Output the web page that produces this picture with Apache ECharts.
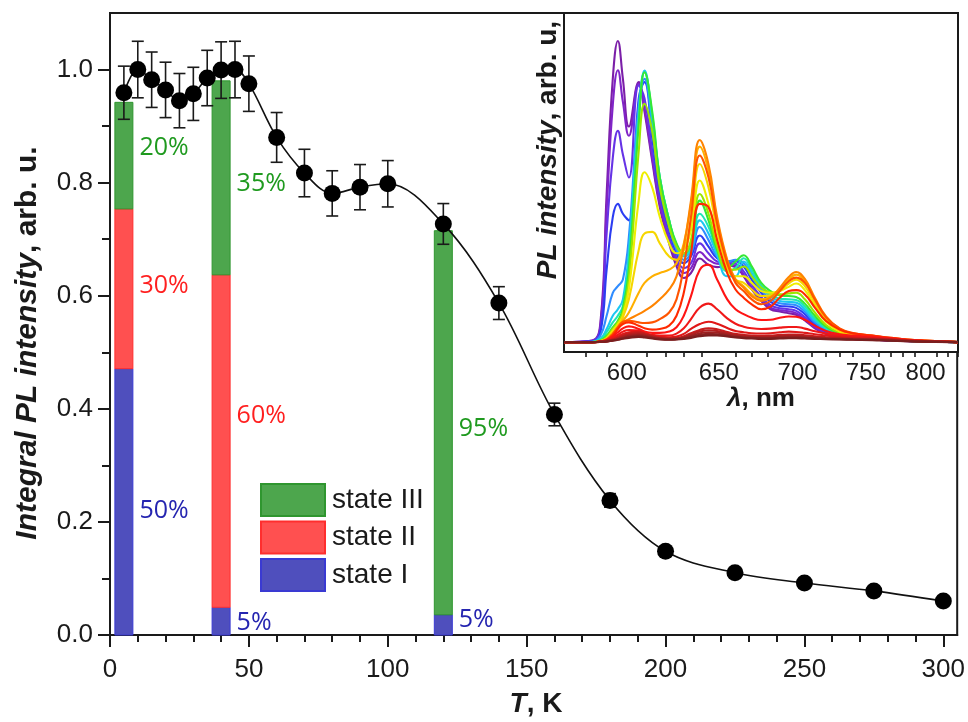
<!DOCTYPE html>
<html>
<head>
<meta charset="utf-8">
<script src="https://cdn.jsdelivr.net/npm/echarts@6/dist/echarts.min.js"></script>
<style>
  html, body { margin: 0; padding: 0; background: #fff; }
  #chart { width: 968px; height: 722px; }
</style>
</head>
<body>
<div id="chart"></div>
<script>
// ---- Temperature dependence of integral PL intensity ----
const temps = [5, 10, 15, 20, 25, 30, 35, 40, 45, 50, 60, 70, 80, 90, 100, 120, 140, 160, 180, 200, 225, 250, 275, 300];
const intensity = [0.959, 1.000, 0.982, 0.964, 0.945, 0.957, 0.985, 0.999, 1.000, 0.975, 0.880, 0.817, 0.781, 0.792, 0.798, 0.727, 0.587, 0.390, 0.238, 0.148, 0.110, 0.092, 0.078, 0.060];
const intensityErr = [0.047, 0.050, 0.049, 0.049, 0.048, 0.047, 0.049, 0.050, 0.050, 0.049, 0.044, 0.042, 0.040, 0.040, 0.041, 0.036, 0.029, 0.020, 0.012, 0.007, 0.006, 0.005, 0.004, 0.003];

// ---- State composition bars (percent of bar total) ----
const barTemps = [5, 40, 120];
const barTotals = [0.942, 0.980, 0.715];
const stateI = [50, 5, 5];
const stateII = [30, 60, 0];
const stateIII = [20, 35, 95];

// ---- Main axis ticks ----
const tempMajorTicks = [0, 50, 100, 150, 200, 250, 300];
const tempMinorTicks = [10, 20, 30, 40, 60, 70, 80, 90, 110, 120, 130, 140, 160, 170, 180, 190, 210, 220, 230, 240, 260, 270, 280, 290];
const intMajorTicks = [0, 0.2, 0.4, 0.6, 0.8, 1.0];
const intMinorTicks = [0.1, 0.3, 0.5, 0.7, 0.9];
const intRightTicks = [0.1, 0.2, 0.3, 0.4, 0.5, 0.6, 0.7, 0.8, 0.9, 1.0];

// ---- Inset: PL spectra (wavelength in nm) ----
const wavelengths = [570, 583, 587, 590, 593, 595.5, 598, 601, 606, 609, 613, 617, 622, 626, 630, 634, 639, 644, 649, 655, 660, 665, 670, 676, 682, 688, 694, 699, 705, 712, 720, 730, 740, 755, 770, 790, 830];
const spectra = [
  [0, .005, .06, .45, .80, .915, .80, .655,  .79, .70, .55, .41, .30, .23, .195, .21,  .254, .235, .228, .232, .228, .20, .16, .125,  .10, .093, .088, .083, .066, .042, .025, .014,  .01, .007, .005, .003, 0],
  [0, .004, .05, .40, .72, .826, .73, .627,  .785, .71, .56, .42, .31, .245, .21, .225,  .274, .25, .238, .236, .232, .205, .165, .13,  .105, .097, .094, .088, .07, .045, .027, .015,  .01, .007, .005, .003, 0],
  [0, .003, .04, .33, .56, .642, .57, .50,  .78, .74, .58, .44, .32, .255, .225, .24,  .30, .27, .245, .24, .238, .215, .175, .137,  .112, .103, .10, .095, .076, .05, .03, .017,  .011, .008, .005, .003, 0],
  [0, .002, .03, .22, .38, .42, .39, .37,  .74, .79, .62, .46, .34, .27, .24, .26,  .324, .29, .255, .245, .245, .23, .19, .15,  .122, .11, .108, .104, .085, .056, .034, .019,  .012, .008, .006, .003, 0],
  [0, .001, .02, .08, .15, .17, .19, .32,  .72, .80, .65, .48, .355, .28, .25, .27,  .35, .31, .26, .245, .25, .24, .20, .158,  .13, .118, .115, .112, .092, .06, .036, .02,  .013, .009, .006, .003, 0],
  [0, 0, .01, .04, .08, .10, .13, .28,  .70, .825, .68, .50, .37, .29, .26, .28,  .37, .33, .265, .20, .20, .245, .21, .165,  .138, .125, .122, .12, .10, .066, .04, .022,  .014, .01, .006, .003, 0],
  [0, 0, .008, .03, .06, .08, .11, .25,  .68, .82, .69, .50, .37, .295, .265, .29,  .39, .35, .275, .215, .225, .255, .22, .172,  .145, .132, .13, .128, .108, .072, .043, .024,  .015, .01, .006, .003, 0],
  [0, 0, .005, .02, .045, .065, .10, .22,  .66, .82, .70, .50, .37, .30, .27, .30,  .43, .37, .28, .225, .245, .264, .23, .18,  .155, .142, .14, .137, .117, .08, .047, .026,  .016, .011, .007, .003, 0],
  [0, 0, .004, .015, .04, .06, .09, .19,  .58, .724, .64, .47, .35, .29, .27, .31,  .45, .39, .29, .22, .22, .23, .20, .165,  .15, .145, .148, .15, .13, .09, .052, .028,  .017, .012, .008, .004, 0],
  [0, 0, .003, .012, .035, .055, .08, .16,  .43, .516, .47, .38, .30, .27, .28, .34,  .491, .42, .31, .22, .20, .20, .18, .155,  .15, .155, .168, .178, .158, .11, .062, .032,  .02, .014, .009, .004, 0],
  [0, 0, .002, .01, .03, .05, .075, .13,  .28, .33, .335, .30, .26, .25, .28, .37,  .541, .47, .34, .23, .19, .18, .16, .14,  .142, .155, .178, .19, .17, .12, .068, .035,  .022, .015, .01, .005, 0],
  [0, 0, .002, .008, .025, .045, .065, .09,  .15, .18, .20, .21, .22, .24, .30, .42,  .594, .52, .37, .245, .19, .17, .145, .13,  .138, .16, .19, .205, .185, .13, .074, .038,  .024, .017, .011, .005, 0],
  [0, 0, .002, .008, .025, .045, .06, .07,  .085, .095, .11, .13, .16, .20, .29, .43,  .614, .54, .38, .25, .19, .165, .14, .125,  .135, .165, .198, .213, .192, .135, .078, .04,  .026, .019, .012, .006, 0],
  [0, 0, .002, .008, .025, .045, .062, .065,  .06, .058, .06, .07, .09, .13, .23, .38,  .567, .50, .36, .24, .18, .155, .13, .115,  .125, .155, .185, .196, .18, .13, .076, .042,  .028, .02, .013, .006, 0],
  [0, 0, .002, .007, .02, .04, .055, .06,  .05, .042, .038, .04, .05, .08, .15, .27,  .42, .41, .31, .21, .16, .135, .115, .10,  .108, .135, .155, .158, .145, .105, .064, .038,  .027, .02, .013, .006, 0],
  [0, 0, .002, .006, .017, .03, .042, .048,  .04, .032, .028, .028, .032, .045, .08, .14,  .22, .235, .19, .13, .10, .085, .074, .067,  .068, .074, .078, .077, .068, .05, .034, .024,  .02, .016, .011, .005, 0],
  [0, 0, .002, .005, .013, .022, .032, .037,  .035, .028, .022, .02, .02, .026, .042, .07,  .105, .117, .10, .072, .056, .047, .042, .04,  .041, .044, .046, .046, .041, .033, .026, .02,  .017, .014, .01, .005, 0],
  [0, 0, .001, .004, .01, .017, .025, .03,  .032, .026, .02, .016, .015, .017, .025, .04,  .055, .062, .056, .043, .034, .03, .027, .026,  .027, .03, .032, .031, .028, .024, .02, .016,  .014, .012, .009, .004, 0],
  [0, 0, .001, .003, .008, .013, .02, .026,  .03, .026, .019, .014, .012, .013, .018, .027,  .037, .042, .039, .031, .025, .022, .02, .019,  .02, .022, .023, .023, .021, .018, .015, .013,  .011, .01, .008, .004, 0],
  [0, 0, .001, .003, .007, .011, .017, .022,  .026, .023, .017, .012, .01, .011, .015, .023,  .032, .036, .034, .027, .022, .019, .017, .016,  .017, .019, .02, .02, .018, .015, .013, .011,  .01, .009, .007, .003, 0],
  [0, 0, .001, .002, .006, .009, .014, .019,  .022, .02, .015, .011, .009, .01, .013, .019,  .027, .03, .029, .023, .019, .016, .015, .014,  .014, .016, .017, .017, .015, .013, .011, .01,  .009, .008, .006, .003, 0],
  [0, 0, .001, .002, .005, .008, .012, .016,  .019, .017, .013, .01, .008, .009, .011, .016,  .022, .025, .024, .02, .016, .014, .013, .012,  .012, .013, .014, .014, .013, .011, .01, .009,  .008, .007, .005, .002, 0],
  [0, 0, .001, .002, .004, .007, .01, .013,  .016, .014, .011, .008, .007, .008, .01, .013,  .018, .02, .02, .017, .014, .012, .011, .01,  .01, .011, .012, .012, .011, .01, .009, .008,  .007, .006, .004, .002, 0]
];
const spectraColors = ['#7b1fa8', '#8024c8', '#6633e6', '#2b3df2', '#2f8cff', '#1cc6f2', '#1ee6b4', '#35e835', '#9ae600', '#eeee00', '#f6d600', '#ffb000', '#ff8400', '#ff5400', '#ff2a00', '#ff1414', '#f01818', '#e01818', '#c81c1c', '#b41e1e', '#a02020', '#8c2020', '#7a1e1e'];
const lambdaMajorTicks = [600, 650, 700, 750, 800];
const lambdaMinorTicks = [580, 590, 610, 620, 630, 640, 660, 670, 680, 690, 710, 720, 730, 740, 760, 770, 780, 790, 810, 820, 830];
const lambdaMin = 570, lambdaMax = 830;

// ---- Styling ----
const FONT = '"Liberation Sans", Arial, sans-serif';
const INK = '#1a1a1a';
const stateStyles = [
  { name: 'state I',   fill: '#4f4fbd', edge: '#3a3ad2', text: '#2525b0' },
  { name: 'state II',  fill: '#ff5050', edge: '#ff2e2e', text: '#ff1f1f' },
  { name: 'state III', fill: '#4da64d', edge: '#2f962f', text: '#1f9a1f' }
];
// vertical nudges of the percentage labels, per state and bar
const labelNudge = [[9, 2, -5], [-3, -25, 0], [-8, 6, 6]];
const BAR_HALF_WIDTH = 9;

// wavelength (nm) -> wavenumber (cm^-1): the inset axis is linear in photon energy
const toWn = nm => 1e7 / nm;

const chart = echarts.init(document.getElementById('chart'), null, { renderer: 'canvas' });

// Stacked composition bars: each state segment sits on top of the states below it
const stateShares = [stateI, stateII, stateIII];
const barSeries = stateShares.map((shares, s) => {
  const st = stateStyles[s];
  return {
    type: 'custom',
    name: st.name,
    xAxisIndex: 0,
    yAxisIndex: 0,
    z: 1,
    clip: false,
    silent: true,
    itemStyle: { color: st.fill, borderColor: st.edge, borderWidth: 1 },
    data: barTemps.map((t, i) => {
      const below = stateShares.slice(0, s).reduce((acc, arr) => acc + arr[i], 0);
      return [t, barTotals[i] * below / 100, barTotals[i] * (below + shares[i]) / 100, shares[i]];
    }),
    encode: { x: 0, y: [1, 2] },
    renderItem: (params, api) => {
      const x = api.value(0), y0 = api.value(1), y1 = api.value(2), pct = api.value(3);
      if (!pct) return null;
      const p0 = api.coord([x, y0]);
      const p1 = api.coord([x, y1]);
      return {
        type: 'rect',
        shape: { x: p0[0] - BAR_HALF_WIDTH, y: p1[1], width: 2 * BAR_HALF_WIDTH, height: p0[1] - p1[1] },
        style: { fill: st.fill, stroke: st.edge, lineWidth: 1 },
        textContent: {
          type: 'text',
          style: { text: pct + '%', fill: st.text, fontFamily: '"Open Sans", sans-serif', fontSize: 25 }
        },
        textConfig: { position: 'right', distance: 6, offset: [0, labelNudge[s][params.dataIndex]] }
      };
    }
  };
});

const errorSeries = {
  type: 'custom',
  xAxisIndex: 0,
  yAxisIndex: 0,
  z: 3,
  clip: false,
  silent: true,
  data: temps.map((t, i) => [t, intensity[i], intensityErr[i]]),
  encode: { x: 0, y: 1 },
  renderItem: (params, api) => {
    const x = api.value(0), y = api.value(1), e = api.value(2);
    const hi = api.coord([x, y + e]);
    const lo = api.coord([x, y - e]);
    const cap = 6;
    const st = { stroke: INK, lineWidth: 1.6 };
    return {
      type: 'group',
      children: [
        { type: 'line', shape: { x1: hi[0], y1: hi[1], x2: lo[0], y2: lo[1] }, style: st },
        { type: 'line', shape: { x1: hi[0] - cap, y1: hi[1], x2: hi[0] + cap, y2: hi[1] }, style: st },
        { type: 'line', shape: { x1: lo[0] - cap, y1: lo[1], x2: lo[0] + cap, y2: lo[1] }, style: st }
      ]
    };
  }
};

const fitSeries = {
  type: 'line',
  xAxisIndex: 0,
  yAxisIndex: 0,
  z: 4,
  smooth: 0.35,
  symbol: 'none',
  silent: true,
  lineStyle: { color: '#111', width: 1.6 },
  data: temps.map((t, i) => [t, intensity[i]])
};

const pointSeries = {
  type: 'scatter',
  xAxisIndex: 0,
  yAxisIndex: 0,
  z: 5,
  symbolSize: 17,
  silent: true,
  itemStyle: { color: '#000', opacity: 1 },
  data: temps.map((t, i) => [t, intensity[i]])
};

const spectraSeries = spectra.map((vals, k) => ({
  type: 'line',
  xAxisIndex: 3,
  yAxisIndex: 3,
  symbol: 'none',
  smooth: 0.45,
  silent: true,
  z: 2,
  lineStyle: { color: spectraColors[k], width: 2.1 },
  data: wavelengths.map((w, i) => [toWn(w), vals[i]])
}));

const axisLineStyle = { color: INK, width: 2 };
const hidden = { show: false };

chart.setOption({
  animation: false,
  backgroundColor: '#fff',
  grid: [
    { left: 110, top: 13, width: 848, height: 622, show: true, borderColor: INK, borderWidth: 2, backgroundColor: 'transparent' },
    { left: 564, top: 13, width: 394, height: 339, show: true, borderColor: INK, borderWidth: 2, backgroundColor: '#fff', z: 1 }
  ],
  legend: {
    orient: 'vertical',
    left: 255,
    top: 478,
    itemWidth: 64,
    itemHeight: 32,
    itemGap: 3.5,
    icon: 'rect',
    selectedMode: false,
    data: ['state III', 'state II', 'state I'],
    textStyle: { fontFamily: FONT, fontSize: 28, color: INK, padding: [0, 0, 0, 2] }
  },
  xAxis: [
    { // main temperature axis: major ticks and labels
      gridIndex: 0, type: 'value', position: 'bottom', min: 0, max: 305,
      axisLine: { show: true, lineStyle: axisLineStyle },
      axisTick: { show: true, customValues: tempMajorTicks, length: 12, lineStyle: { color: INK, width: 2 } },
      axisLabel: { show: true, customValues: tempMajorTicks, margin: 22, fontFamily: FONT, fontSize: 26, color: INK },
      splitLine: hidden
    },
    { // main temperature axis: minor ticks
      gridIndex: 0, type: 'value', position: 'bottom', min: 0, max: 305,
      axisLine: hidden,
      axisTick: { show: true, customValues: tempMinorTicks, length: 7, lineStyle: { color: INK, width: 2 } },
      axisLabel: hidden, splitLine: hidden
    },
    { // top frame
      gridIndex: 0, type: 'value', position: 'top', min: 0, max: 305,
      axisLine: { show: true, lineStyle: axisLineStyle },
      axisTick: hidden, axisLabel: hidden, splitLine: hidden
    },
    { // inset wavelength axis (energy-linear), major ticks and labels
      gridIndex: 1, type: 'value', position: 'bottom', inverse: true,
      min: toWn(lambdaMax), max: toWn(lambdaMin),
      axisLine: { show: true, lineStyle: axisLineStyle },
      axisTick: { show: true, customValues: lambdaMajorTicks.map(toWn), length: 9, lineStyle: { color: INK, width: 1.6 } },
      axisLabel: { show: true, customValues: lambdaMajorTicks.map(toWn), margin: 9, fontFamily: FONT, fontSize: 24, color: INK,
                   formatter: v => String(Math.round(1e7 / v)) },
      splitLine: hidden
    },
    { // inset wavelength axis, minor ticks
      gridIndex: 1, type: 'value', position: 'bottom', inverse: true,
      min: toWn(lambdaMax), max: toWn(lambdaMin),
      axisLine: hidden,
      axisTick: { show: true, customValues: lambdaMinorTicks.map(toWn), length: 5, lineStyle: { color: INK, width: 1.6 } },
      axisLabel: hidden, splitLine: hidden
    }
  ],
  yAxis: [
    { // main intensity axis: major ticks and labels
      gridIndex: 0, type: 'value', position: 'left', min: 0, max: 1.1,
      axisLine: { show: true, lineStyle: axisLineStyle },
      axisTick: { show: true, customValues: intMajorTicks, length: 12, lineStyle: { color: INK, width: 2 } },
      axisLabel: { show: true, customValues: intMajorTicks, margin: 17, fontFamily: FONT, fontSize: 26, color: INK,
                   formatter: v => v.toFixed(1) },
      splitLine: hidden
    },
    { // main intensity axis: minor ticks
      gridIndex: 0, type: 'value', position: 'left', min: 0, max: 1.1,
      axisLine: hidden,
      axisTick: { show: true, customValues: intMinorTicks, length: 7, lineStyle: { color: INK, width: 2 } },
      axisLabel: hidden, splitLine: hidden
    },
    { // right frame with inward ticks
      gridIndex: 0, type: 'value', position: 'right', min: 0, max: 1.1,
      axisLine: { show: true, lineStyle: axisLineStyle },
      axisTick: { show: true, inside: true, customValues: intRightTicks, length: 8, lineStyle: { color: INK, width: 2 } },
      axisLabel: hidden, splitLine: hidden
    },
    { // inset intensity axis (no scale shown)
      gridIndex: 1, type: 'value', position: 'left', min: -0.03, max: 1.0,
      axisLine: { show: true, lineStyle: axisLineStyle },
      axisTick: hidden, axisLabel: hidden, splitLine: hidden
    }
  ],
  graphic: [
    {
      type: 'text', x: 28, y: 343, rotation: Math.PI / 2,
      style: {
        text: '{i|Integral PL intensity}{n|, arb. u.}',
        align: 'center', verticalAlign: 'middle',
        rich: {
          i: { fontFamily: FONT, fontSize: 30, fontWeight: 'bold', fontStyle: 'italic', fill: INK },
          n: { fontFamily: FONT, fontSize: 30, fontWeight: 'bold', fill: INK }
        }
      }
    },
    {
      type: 'text', x: 536, y: 704,
      style: {
        text: '{i|T}{n|, K}',
        align: 'center', verticalAlign: 'middle',
        rich: {
          i: { fontFamily: FONT, fontSize: 28, fontWeight: 'bold', fontStyle: 'italic', fill: INK },
          n: { fontFamily: FONT, fontSize: 28, fontWeight: 'bold', fill: INK }
        }
      }
    },
    {
      type: 'text', x: 548, y: 150, rotation: Math.PI / 2, z: 10,
      style: {
        text: '{i|PL intensity}{n|, arb. u,}',
        align: 'center', verticalAlign: 'middle',
        rich: {
          i: { fontFamily: FONT, fontSize: 28, fontWeight: 'bold', fontStyle: 'italic', fill: INK },
          n: { fontFamily: FONT, fontSize: 28, fontWeight: 'bold', fill: INK }
        }
      }
    },
    {
      type: 'text', x: 761, y: 399, z: 10,
      style: {
        text: '{i|λ}{n|, nm}',
        align: 'center', verticalAlign: 'middle',
        rich: {
          i: { fontFamily: FONT, fontSize: 26, fontWeight: 'bold', fontStyle: 'italic', fill: INK },
          n: { fontFamily: FONT, fontSize: 26, fontWeight: 'bold', fill: INK }
        }
      }
    }
  ],
  series: [...barSeries, errorSeries, fitSeries, pointSeries, ...spectraSeries]
});
</script>
</body>
</html>
